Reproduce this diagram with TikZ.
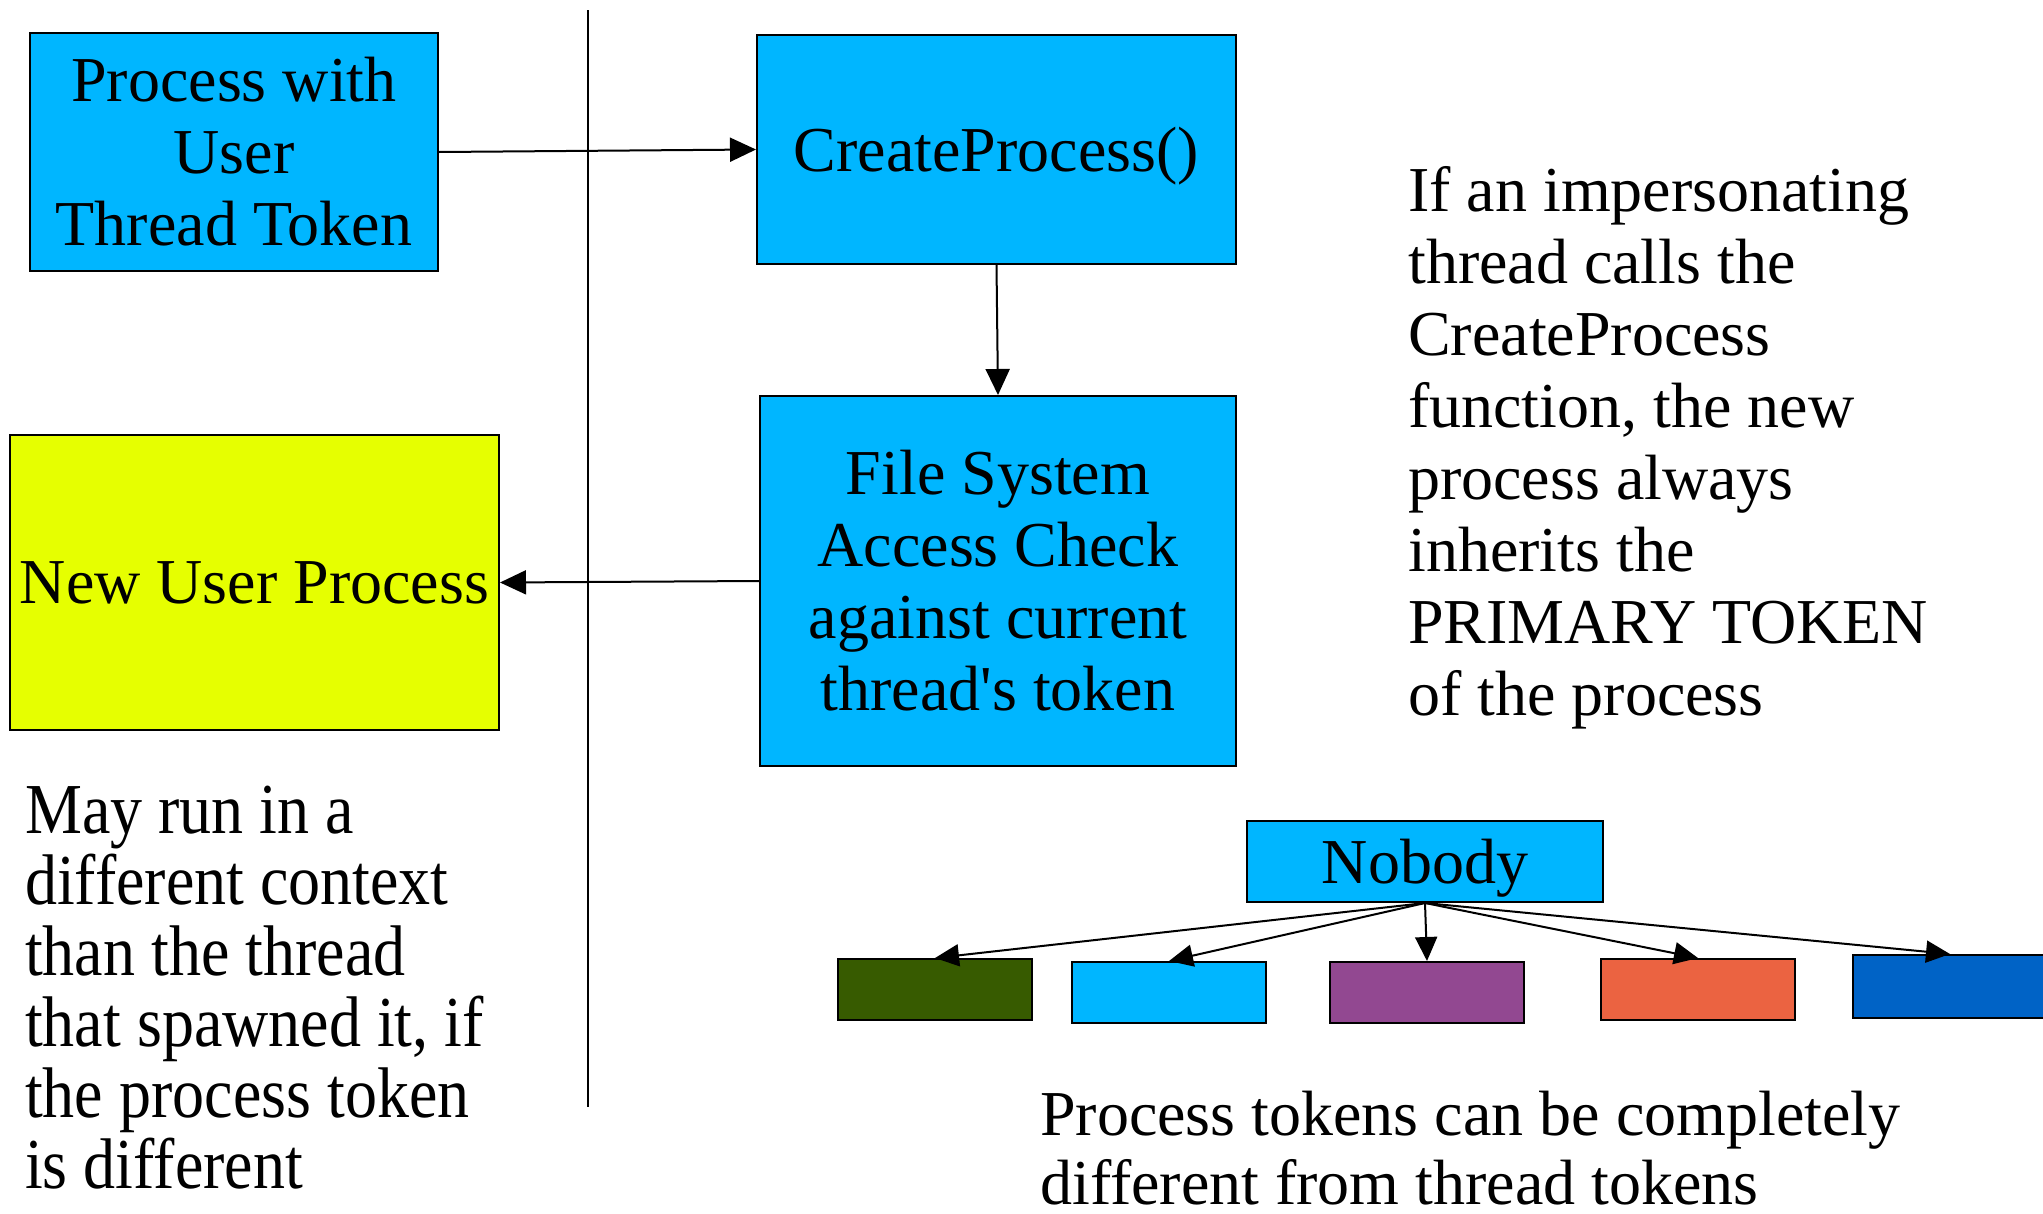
\documentclass[tikz,border=0pt]{standalone}
\usepackage{fontspec}
\usepackage{graphicx}
\setmainfont{Liberation Serif}
\usetikzlibrary{arrows.meta}

\definecolor{tokcyan}{RGB}{0,182,255}
\definecolor{tokyellow}{RGB}{230,255,0}
\definecolor{tokgreen}{RGB}{55,91,0}
\definecolor{tokpurple}{RGB}{146,72,145}
\definecolor{tokorange}{RGB}{235,99,65}
\definecolor{tokblue}{RGB}{0,99,198}

\newcommand{\bigtext}{\fontsize{64}{72}\selectfont}
\newcommand{\tallline}[1]{\scalebox{1}[1.12]{#1}}

\tikzset{
  box/.style={draw=black, line width=2pt, rectangle, inner sep=0pt,
    align=center, font=\bigtext},
  tokbox/.style={draw=black, line width=2pt, rectangle, inner sep=0pt,
    minimum width=194pt, minimum height=61pt},
  flow/.style={line width=2pt, -{Triangle[length=26pt,width=24pt]}},
  fan/.style={line width=2pt, -{Triangle[length=24pt,width=22pt]}},
  txt/.style={anchor=base west, inner sep=0pt, font=\bigtext},
}

\begin{document}
\begin{tikzpicture}[x=1pt,y=-1pt]
  \useasboundingbox (0,0) rectangle (2043,1213);

  % separator between the two sides
  \coordinate (divtop) at (588,10);
  \coordinate (divbot) at (588,1107);
  \draw[line width=2pt] (divtop) -- (divbot);

  % main flow
  \node[box, fill=tokcyan, minimum width=408pt, minimum height=238pt]
    (caller) at (234,152) {Process with\\User\\Thread Token};
  \node[box, fill=tokcyan, minimum width=479pt, minimum height=229pt,
        text depth=0pt]
    (create) at (996.5,149.5) {CreateProcess()};
  \node[box, fill=tokcyan, minimum width=476pt, minimum height=370pt]
    (check) at (998,581) {File System\\[0pt]Access Check\\against current\\thread\textquotesingle s token};
  \node[box, fill=tokyellow, minimum width=489pt, minimum height=295pt]
    (newproc) at (254.5,582.5) {New User Process};

  \draw[flow] (caller.east) -- (create.west);
  \draw[flow] (create.south) -- (check.north);
  \draw[flow] (check.west) -- (newproc.east);

  % token fan-out
  \node[box, fill=tokcyan, minimum width=356pt, minimum height=81pt,
        text depth=0pt]
    (nobody) at (1425,861.5) {Nobody};
  \node[tokbox, fill=tokgreen]  (t1) at (935,989.5) {};
  \node[tokbox, fill=tokcyan]   (t2) at (1169,992.5) {};
  \node[tokbox, fill=tokpurple] (t3) at (1427,992.5) {};
  \node[tokbox, fill=tokorange] (t4) at (1698,989.5) {};
  \node[tokbox, fill=tokblue, minimum height=63pt] (t5) at (1950,986.5) {};

  \foreach \t in {t1,t2,t3,t4,t5}
    \draw[fan] (nobody.south) -- (\t.north);

  % explanatory notes
  \foreach \line [count=\i from 0] in {%
      If an impersonating,
      thread calls the,
      CreateProcess,
      {function, the new},
      process always,
      inherits the,
      PRIMARY TOKEN,
      of the process}
    \node[txt] (right-\i) at (1408,211+72*\i) {\line};

  \foreach \line [count=\i from 0] in {%
      May run in a,
      different context,
      than the thread,
      {that spawned it, if},
      the process token,
      is different}
    \node[txt] (left-\i) at (25,833+71*\i) {\tallline{\line}};

  \node[txt] (bottom-0) at (1040,1135) {Process tokens can be completely};
  \node[txt, text depth=0pt] (bottom-1) at (1040,1204) {different from thread tokens};
\end{tikzpicture}
\end{document}
